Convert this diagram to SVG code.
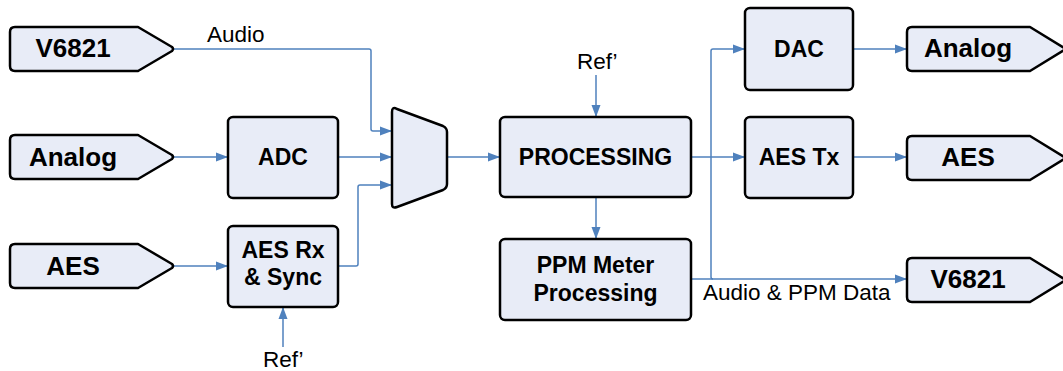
<svg xmlns="http://www.w3.org/2000/svg" width="1063" height="371" viewBox="0 0 1063 371">
<style>
.shape{fill:#E8ECF7;stroke:#000;stroke-width:2.5;stroke-linejoin:round}
.conn{fill:none;stroke:#4F81BD;stroke-width:1.5}
.big{font-family:"Liberation Sans",Arial,sans-serif;font-weight:bold;font-size:26px;fill:#000;text-anchor:middle}
.bx{font-family:"Liberation Sans",Arial,sans-serif;font-weight:bold;font-size:23px;fill:#000;text-anchor:middle}
.lbl{font-family:"Liberation Sans",Arial,sans-serif;font-size:22.5px;fill:#000}
</style>
<defs>
<marker id="arr" markerUnits="userSpaceOnUse" markerWidth="12" markerHeight="12" viewBox="0 0 12 12" refX="12" refY="6" orient="auto">
<path d="M0,1.5 L12,6 L0,10.5 Z" fill="#4F81BD"/>
</marker>
</defs>
<rect width="1063" height="371" fill="#fff"/>
<g id="connectors">
<path class="conn" d="M174,49 H369 Q371,49 371,51 V129 Q371,131 373,131 H392" marker-end="url(#arr)"/>
<path class="conn" d="M174,157 H228" marker-end="url(#arr)"/>
<path class="conn" d="M174,266 H228" marker-end="url(#arr)"/>
<path class="conn" d="M338,157 H392" marker-end="url(#arr)"/>
<path class="conn" d="M338,266 H356 Q358,266 358,264 V187 Q358,185 360,185 H392" marker-end="url(#arr)"/>
<path class="conn" d="M283,347 V307" marker-end="url(#arr)"/>
<path class="conn" d="M447,157 H500" marker-end="url(#arr)"/>
<path class="conn" d="M596,75 V117" marker-end="url(#arr)"/>
<path class="conn" d="M596,197 V239" marker-end="url(#arr)"/>
<path class="conn" d="M691,157 H745" marker-end="url(#arr)"/>
<path class="conn" d="M711,157 V51 Q711,49 713,49 H745" marker-end="url(#arr)"/>
<path class="conn" d="M711,157 V277 Q711,279 713,279"/>
<path class="conn" d="M691,279 H907" marker-end="url(#arr)"/>
<path class="conn" d="M853,49 H907" marker-end="url(#arr)"/>
<path class="conn" d="M853,157 H907" marker-end="url(#arr)"/>
</g>
<g id="in-v6821">
<path class="shape" d="M15,27 H138 L172,47 Q174,49 172,51 L138,71 H15 Q10,71 10,66 V32 Q10,27 15,27 Z"/>
<text class="big" x="73" y="57">V6821</text>
</g>
<g id="in-analog">
<path class="shape" d="M15,135 H138 L172,155 Q174,157 172,159 L138,179 H15 Q10,179 10,174 V140 Q10,135 15,135 Z"/>
<text class="big" x="73" y="166">Analog</text>
</g>
<g id="in-aes">
<path class="shape" d="M15,244 H138 L172,264 Q174,266 172,268 L138,288 H15 Q10,288 10,283 V249 Q10,244 15,244 Z"/>
<text class="big" x="73" y="275">AES</text>
</g>
<g id="adc">
<rect class="shape" x="228" y="117" width="110" height="81" rx="5"/>
<text class="bx" x="283" y="165">ADC</text>
</g>
<g id="aesrx">
<rect class="shape" x="228" y="226" width="110" height="81" rx="5"/>
<text class="bx" x="283" y="258">AES Rx</text>
<text class="bx" x="283" y="285">&amp; Sync</text>
</g>
<g id="mux">
<path class="shape" d="M392,112 Q392,106 397,109 L443,126 Q447,128 447,132 V184 Q447,188 443,190 L397,207 Q392,209 392,204 Z"/>
</g>
<g id="processing">
<rect class="shape" x="500" y="117" width="191" height="80" rx="5"/>
<text class="bx" x="595.5" y="165">PROCESSING</text>
</g>
<g id="ppm">
<rect class="shape" x="500" y="239" width="191" height="81" rx="5"/>
<text class="bx" x="595.5" y="273">PPM Meter</text>
<text class="bx" x="595.5" y="301">Processing</text>
</g>
<g id="dac">
<rect class="shape" x="745" y="8" width="108" height="82" rx="5"/>
<text class="bx" x="799" y="57">DAC</text>
</g>
<g id="aestx">
<rect class="shape" x="745" y="117" width="108" height="81" rx="5"/>
<text class="bx" x="799" y="165">AES Tx</text>
</g>
<g id="out-analog">
<path class="shape" d="M912,27 H1030 L1066,49 L1030,71 H912 Q907,71 907,66 V32 Q907,27 912,27 Z"/>
<text class="big" x="968" y="57">Analog</text>
</g>
<g id="out-aes">
<path class="shape" d="M912,136 H1030 L1066,158 L1030,180 H912 Q907,180 907,175 V141 Q907,136 912,136 Z"/>
<text class="big" x="968" y="166">AES</text>
</g>
<g id="out-v6821">
<path class="shape" d="M912,258 H1030 L1066,280 L1030,302 H912 Q907,302 907,297 V263 Q907,258 912,258 Z"/>
<text class="big" x="968" y="288">V6821</text>
</g>
<g id="labels">
<text class="lbl" x="207" y="42">Audio</text>
<text class="lbl" x="577" y="69">Ref’</text>
<text class="lbl" x="263" y="367">Ref’</text>
<text class="lbl" x="703" y="300">Audio &amp; PPM Data</text>
</g>
</svg>
